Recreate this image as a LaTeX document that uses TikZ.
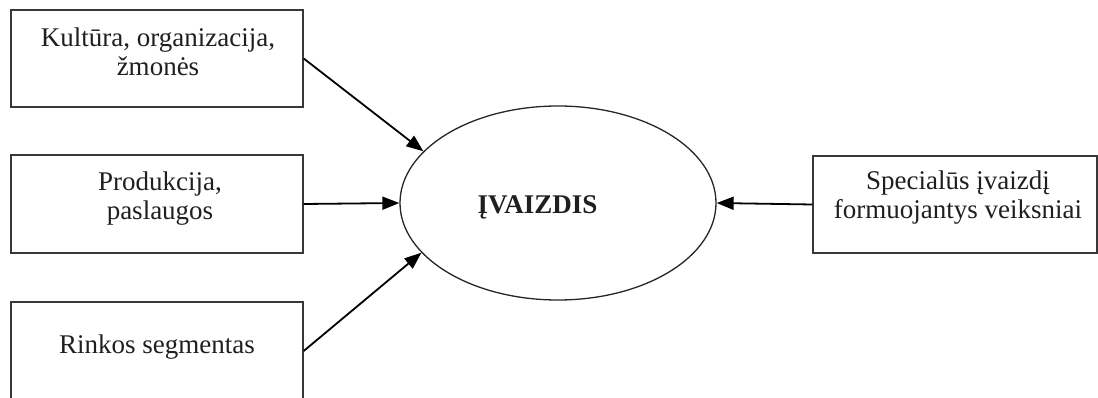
\documentclass[tikz,border=0pt]{standalone}
\usepackage{fontspec}
\setmainfont{Liberation Serif}
\usetikzlibrary{shapes.geometric,arrows.meta}
\begin{document}
\begin{tikzpicture}[x=1pt,y=-1pt,
  box/.style={draw=black!78,line width=1.4pt,rectangle,inner sep=0pt,minimum width=292pt},
  lbl/.style={font=\fontsize{27}{29.4}\selectfont,align=center,text=black!88,inner sep=0pt,anchor=base},
  conn/.style={line width=1.8pt,-{Triangle[length=17pt,width=13pt]}}]
\useasboundingbox (0,0) rectangle (1098,398);
% source boxes on the left (labels placed by the baseline of their last line)
\node[box,minimum height=97pt] (b1) at (157,58.5) {};
\node[box,minimum height=98pt] (b2) at (157,204) {};
\node[box,minimum height=98pt] (b3) at (157,351) {};
\node[lbl] (t1) at (158,76) {Kultūra, organizacija,\\žmonės};
\node[lbl] (t2) at (160,220) {Produkcija,\\paslaugos};
\node[lbl] (t3) at (157,353) {Rinkos segmentas};
% box on the right
\node[box,minimum width=284pt,minimum height=97pt] (r) at (955,204.5) {};
\node[lbl] (tr) at (958,219) {Specialūs įvaizdį\\formuojantys veiksniai};
% central ellipse
\node[ellipse,draw=black!85,line width=1.3pt,minimum width=316pt,minimum height=194pt,inner sep=0pt] (img) at (558,203) {};
\node[lbl,font=\fontsize{27}{29.4}\selectfont\bfseries] (title) at (537.5,214) {ĮVAIZDIS};
% connectors
\draw[conn] (b1.east) -- (img.159.7);
\draw[conn] (b2.east) -- (img.west);
\draw[conn] (b3.east) -- (img.200.3);
\draw[conn] (r.west) -- (img.east);
\end{tikzpicture}
\end{document}
